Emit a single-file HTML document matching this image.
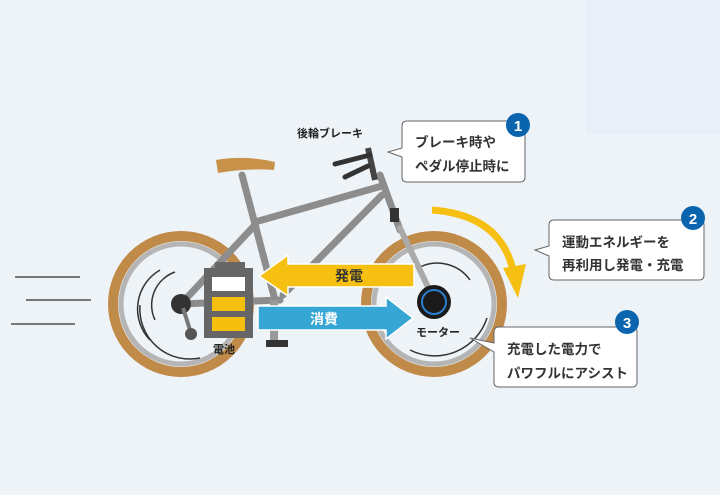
<!DOCTYPE html>
<html><head><meta charset="utf-8"><style>
body{margin:0;width:720px;height:490px;overflow:hidden;background:#eef3f8;font-family:"Liberation Sans","Noto Sans CJK JP",sans-serif}
</style></head><body>
<svg width="720" height="490" viewBox="0 0 720 490" xmlns="http://www.w3.org/2000/svg" font-family="Liberation Sans, Noto Sans CJK JP, sans-serif">
<rect width="720" height="490" fill="#eef3f8"/>
<rect x="586" y="0" width="134" height="134" fill="#e9eff9"/>
<g stroke="#777" stroke-width="2"><line x1="15" y1="277" x2="80" y2="277"/><line x1="26" y1="300" x2="91" y2="300"/><line x1="11" y1="324" x2="75" y2="324"/></g>
<g fill="#eef3f8">
<circle cx="181" cy="304" r="68" stroke="#c08a48" stroke-width="10"/>
<circle cx="181" cy="304" r="60" stroke="#b5b5b5" stroke-width="5" fill="none"/>
<circle cx="434" cy="304" r="68" stroke="#c08a48" stroke-width="10"/>
<circle cx="434" cy="304" r="60" stroke="#b5b5b5" stroke-width="5" fill="none"/>
</g>
<g stroke="#333" stroke-width="1.5" fill="none">
<path d="M160 270 A45 45 0 0 0 150 340"/><path d="M175 272 A35 35 0 0 0 155 320"/><path d="M140 305 A50 50 0 0 0 200 358"/>
<path d="M420 267 A40 40 0 0 1 470 280"/><path d="M487 318 A55 55 0 0 1 410 350"/>
</g>
<g stroke="#8d8d8d" stroke-width="7" stroke-linecap="round" fill="none">
<line x1="242" y1="175" x2="275" y2="300"/>
<line x1="255" y1="222" x2="382" y2="186"/>
<line x1="382" y1="195" x2="283" y2="295"/>
<line x1="181" y1="304" x2="280" y2="300"/>
<line x1="181" y1="304" x2="255" y2="225"/>
<line x1="380" y1="175" x2="400" y2="230"/>
</g>
<line x1="400" y1="228" x2="435" y2="302" stroke="#aaa" stroke-width="6" stroke-linecap="round"/>
<path d="M368 148 L375 180" stroke="#444" stroke-width="6"/>
<path d="M335 164 L370 155 M345 177 L368 166" stroke="#333" stroke-width="5" stroke-linecap="round"/>
<rect x="390" y="208" width="9" height="14" fill="#333"/>
<path d="M216 160 Q245 155 275 162 L274 170 Q245 168 218 173 Z" fill="#c9924a"/>
<rect x="270" y="300" width="8" height="40" fill="#999"/><rect x="266" y="340" width="22" height="7" fill="#333"/>
<circle cx="181" cy="304" r="10" fill="#333"/>
<path d="M183 308 L190 330" stroke="#777" stroke-width="4"/><circle cx="191" cy="334" r="6" fill="#555"/>
<rect x="215" y="262" width="30" height="8" fill="#666"/>
<rect x="204" y="268" width="49" height="70" fill="#666"/>
<rect x="212" y="277" width="33" height="14" fill="#fff"/>
<rect x="212" y="297" width="33" height="14" fill="#f5bf10"/>
<rect x="212" y="317" width="33" height="14" fill="#f5bf10"/>
<text x="213" y="353" font-size="11" font-weight="bold" fill="#222">電池</text>
<path d="M414 264 L288 264 L288 255 L259 276 L288 296 L288 287 L414 287 Z" fill="#f5c012" stroke="#fff" stroke-width="1.5"/>
<text x="335" y="281" font-size="14" font-weight="bold" fill="#333">発電</text>
<path d="M258 306 L386 306 L386 297 L413 318 L386 339 L386 330 L258 330 Z" fill="#36a6d4" stroke="#fff" stroke-width="1.5"/>
<text x="310" y="324" font-size="14" font-weight="bold" fill="#fff">消費</text>
<circle cx="434" cy="302" r="17" fill="#1a1a1a"/><circle cx="434" cy="302" r="12" fill="none" stroke="#2a7fd0" stroke-width="2"/>
<text x="416" y="336" font-size="11" font-weight="bold" fill="#222">モーター</text>
<path d="M432 210 Q500 215 513 270" stroke="#f5c012" stroke-width="7" fill="none"/>
<path d="M503 268 L518 298 L526 264 Z" fill="#f5c012"/>
<text x="297" y="137" font-size="11" font-weight="bold" fill="#222">後輪ブレーキ</text>
<g fill="#fff" stroke="#666" stroke-width="1">
<path d="M407 121 H520 Q525 121 525 126 V177 Q525 182 520 182 H407 Q402 182 402 177 V157 L388 152 L402 148 V126 Q402 121 407 121 Z"/>
<path d="M554 220 H699 Q704 220 704 225 V275 Q704 280 699 280 H554 Q549 280 549 275 V256 L535 250 L549 246 V225 Q549 220 554 220 Z"/>
<path d="M499 327 H632 Q637 327 637 332 V382 Q637 387 632 387 H499 Q494 387 494 382 V352 L470 338 L494 343 V332 Q494 327 499 327 Z"/>
</g>
<g font-size="13.5" font-weight="bold" fill="#333">
<text x="415" y="147">ブレーキ時や</text><text x="415" y="171">ペダル停止時に</text>
<text x="562" y="247">運動エネルギーを</text><text x="562" y="270">再利用し発電・充電</text>
<text x="507" y="354">充電した電力で</text><text x="507" y="378">パワフルにアシスト</text>
</g>
<g fill="#0b64ae"><circle cx="518" cy="125" r="12"/><circle cx="693" cy="218" r="12"/><circle cx="627" cy="322" r="12"/></g>
<g fill="#fff" font-size="15" font-weight="bold" text-anchor="middle"><text x="518" y="131">1</text><text x="693" y="224">2</text><text x="627" y="328">3</text></g>
</svg>
</body></html>
